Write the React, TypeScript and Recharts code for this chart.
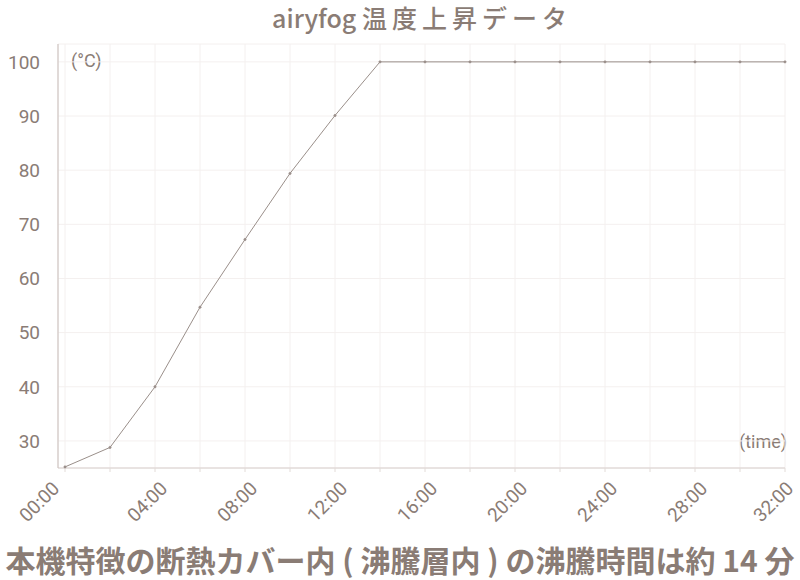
import React from 'react';
import { LineChart, Line, XAxis, YAxis, CartesianGrid } from 'recharts';

// minutes since start, every 2 min
const minutes = [0, 2, 4, 6, 8, 10, 12, 14, 16, 18, 20, 22, 24, 26, 28, 30, 32];
// temperature (°C)
const temps = [25.2, 28.8, 40.0, 54.7, 67.2, 79.4, 90.1, 100, 100, 100, 100, 100, 100, 100, 100, 100, 100];
const yTicks = [30, 40, 50, 60, 70, 80, 90, 100];

const data = minutes.map((m, i) => ({ t: m, temp: temps[i] }));

const TEXT = '#8a7c75';
const LINE = '#9a8f8a';
const NUM_FONT = 'Roboto, "Noto Sans", sans-serif';
const JP_FONT = '"Noto Sans CJK JP", "Noto Sans", sans-serif';

const fmt = (m: number) => `${String(m).padStart(2, '0')}:00`;

const XTick = (props: any) => {
  const { x, y, payload } = props;
  if (payload.value % 4 !== 0) return null;
  // first label sits a little left of its tick in the original
  let dx = 9;
  if (payload.value === 0) dx = -9;
  if (payload.value === 32) dx = 5;
  const tx = x + dx;
  const ty = y + 11;
  return (
    <text
      x={tx}
      y={ty}
      transform={`rotate(-45, ${tx}, ${ty})`}
      textAnchor="end"
      dominantBaseline="central"
      fill={TEXT}
      fontSize={19}
      fontFamily={NUM_FONT}
    >
      {fmt(payload.value)}
    </text>
  );
};

export default function App() {
  return (
    <div style={{ position: 'relative', width: 800, height: 580 }}>
      <style>{'body{margin:0}'}</style>
      <div
        style={{
          position: 'absolute', left: 44, width: 756, top: 0, textAlign: 'center', lineHeight: '34px',
          fontFamily: JP_FONT, fontSize: 25, color: TEXT, fontWeight: 500, whiteSpace: 'nowrap',
        }}
      >
        airyfog <span style={{ letterSpacing: 5 }}>温度上昇データ</span>
      </div>
      <div style={{ position: 'absolute', left: 71, top: 50, fontFamily: NUM_FONT, fontSize: 18, color: TEXT }}>
        (°C)
      </div>
      <div style={{ position: 'absolute', right: 13, top: 431, fontFamily: NUM_FONT, fontSize: 18, color: TEXT }}>
        (time)
      </div>
      <LineChart width={800} height={580} data={data} margin={{ top: 44, right: 15, bottom: 52, left: 0 }}>
        <CartesianGrid stroke="#f4f0ef" strokeWidth={1} />
        <XAxis
          dataKey="t"
          type="number"
          domain={[0, 32]}
          ticks={minutes}
          padding={{ left: 7, right: 0 }}
          height={60}
          axisLine={{ stroke: '#d8cfcc' }}
          tickLine={{ stroke: '#e2dbd8' }}
          tickSize={4}
          tick={<XTick />}
          interval={0}
        />
        <YAxis
          type="number"
          domain={[25, 103.3]}
          ticks={yTicks}
          width={58}
          axisLine={{ stroke: '#c8bdb9' }}
          tickLine={false}
          tickSize={6}
          tickMargin={12}
          tick={{ fill: TEXT, fontSize: 19, fontFamily: NUM_FONT }}
          interval={0}
        />
        <Line
          type="linear"
          dataKey="temp"
          stroke={LINE}
          strokeWidth={1}
          dot={{ r: 1.2, fill: LINE, stroke: LINE, strokeWidth: 0.5 }}
          isAnimationActive={false}
        />
      </LineChart>
      <div
        style={{
          position: 'absolute', left: 0, width: 800, top: 540, textAlign: 'center', whiteSpace: 'nowrap',
          fontFamily: JP_FONT, fontSize: 30, fontWeight: 700, color: TEXT, lineHeight: '38px',
        }}
      >
        本機特徴の断熱カバー内 ( 沸騰層内 ) の沸騰時間は約 14 分
      </div>
    </div>
  );
}
